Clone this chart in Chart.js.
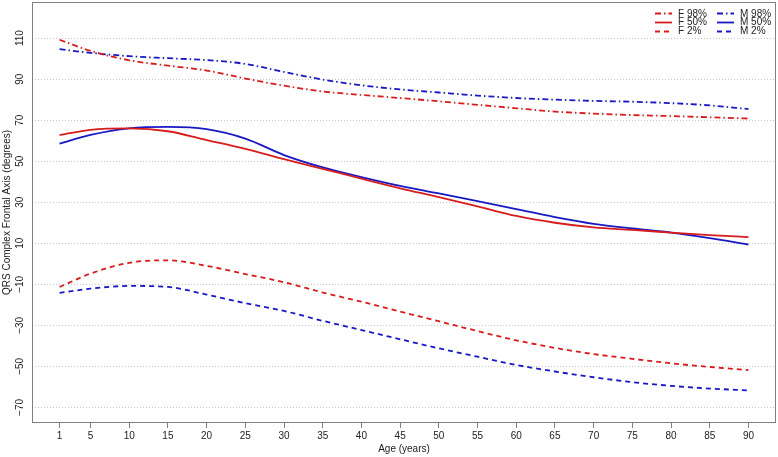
<!DOCTYPE html>
<html>
<head>
<meta charset="utf-8">
<script src="https://cdn.jsdelivr.net/npm/chart.js@4.4.1/dist/chart.umd.min.js"></script>
<style>
  html, body { margin: 0; padding: 0; background: #ffffff; }
  #wrap { width: 778px; height: 457px; }
</style>
</head>
<body>
<div id="wrap"><canvas id="c" width="778" height="457"></canvas></div>
<script>
// ---- data ----
const ages = [1, 5, 10, 15, 20, 25, 30, 35, 40, 45, 50, 55, 60, 65, 70, 75, 80, 85, 90];
const xTickLabels = [1, 5, 10, 15, 20, 25, 30, 35, 40, 45, 50, 55, 60, 65, 70, 75, 80, 85, 90];
const yTickLabels = [-70, -50, -30, -10, 10, 30, 50, 70, 90, 110];
const seriesNames = ["F 98%", "F 50%", "F 2%", "M 98%", "M 50%", "M 2%"];

const f98 = [109.2, 103.8, 99.2, 96.6, 94.2, 90.3, 86.8, 84.0, 82.3, 80.8, 79.2, 77.5, 75.8, 74.2, 73.2, 72.5, 72.0, 71.4, 70.8];
const f50 = [62.7, 65.3, 66.0, 64.6, 60.3, 56.0, 51.0, 46.3, 41.5, 36.8, 32.5, 28.0, 23.3, 20.0, 17.7, 16.5, 15.2, 14.0, 13.0];
const f2  = [-11.3, -4.8, 0.5, 1.7, -1.0, -5.0, -9.0, -14.0, -18.5, -23.3, -28.0, -32.8, -37.3, -41.0, -44.0, -46.3, -48.5, -50.3, -51.8];
const m98 = [104.6, 102.8, 101.2, 100.2, 99.3, 97.4, 93.5, 89.8, 87.0, 85.0, 83.5, 82.0, 80.8, 80.0, 79.4, 79.0, 78.3, 77.2, 75.4];
const m50 = [58.6, 62.8, 66.0, 66.7, 65.6, 61.0, 53.0, 47.0, 42.3, 38.0, 34.3, 30.5, 26.6, 22.8, 19.5, 17.2, 15.2, 12.5, 9.4];
const m2  = [-14.2, -12.1, -10.8, -11.3, -15.0, -19.2, -23.0, -27.8, -32.3, -36.8, -41.2, -45.3, -49.3, -52.5, -55.3, -57.7, -59.5, -60.8, -61.7];

// ---- styles ----
const RED = '#d81c1c';
const BLUE = '#1818c4';
const DASHDOT = [6, 3, 1.5, 3];
const DASHED = [5, 4];
const FONT = '"Liberation Sans", Arial, Helvetica, sans-serif';

function ds(label, values, color, dash) {
  return {
    label: label,
    data: ages.map((a, i) => ({ x: a, y: values[i] })),
    borderColor: color,
    backgroundColor: color,
    borderWidth: 1.8,
    borderDash: dash,
    pointRadius: 0,
    fill: false,
    tension: 0.4,
    cubicInterpolationMode: 'monotone'
  };
}

const datasets = [
  ds(seriesNames[0], f98, RED, DASHDOT),
  ds(seriesNames[1], f50, RED, []),
  ds(seriesNames[2], f2, RED, DASHED),
  ds(seriesNames[3], m98, BLUE, DASHDOT),
  ds(seriesNames[4], m50, BLUE, []),
  ds(seriesNames[5], m2, BLUE, DASHED)
];

// box around plot + rotated y tick labels + legend
const decor = {
  id: 'decor',
  afterDraw(chart) {
    const ctx = chart.ctx;
    const a = chart.chartArea;
    ctx.save();
    ctx.strokeStyle = '#808080';
    ctx.lineWidth = 1;
    ctx.setLineDash([]);
    ctx.strokeRect(Math.round(a.left) + 0.5, Math.round(a.top) + 0.5,
                   Math.round(a.right - a.left) - 1, Math.round(a.bottom - a.top) - 1);

    // y tick labels (rotated)
    const ys = chart.scales.y;
    ctx.fillStyle = '#222222';
    ctx.font = '10px ' + FONT;
    ctx.textAlign = 'center';
    ctx.textBaseline = 'middle';
    yTickLabels.forEach(v => {
      const py = ys.getPixelForValue(v);
      ctx.save();
      ctx.translate(20, py);
      ctx.rotate(-Math.PI / 2);
      ctx.fillText(v < 0 ? '\u2212' + Math.abs(v) : String(v), 0, 0);
      ctx.restore();
    });

    // legend: two columns (F, M), three rows
    const colX = [655, 717];
    chart.data.datasets.forEach((d, i) => {
      const col = i < 3 ? 0 : 1;
      const row = i % 3;
      const y = 13.3 + row * 8.9;
      const x0 = colX[col];
      ctx.save();
      ctx.strokeStyle = d.borderColor;
      ctx.lineWidth = 1.8;
      ctx.setLineDash(d.borderDash || []);
      ctx.beginPath();
      ctx.moveTo(x0, Math.round(y) + 0.5);
      ctx.lineTo(x0 + 17, Math.round(y) + 0.5);
      ctx.stroke();
      ctx.restore();
      ctx.fillStyle = '#222222';
      ctx.textAlign = 'left';
      ctx.textBaseline = 'middle';
      ctx.fillText(d.label, x0 + 23, y + 0.5);
    });
    ctx.restore();
  }
};

new Chart(document.getElementById('c'), {
  type: 'line',
  data: { datasets: datasets },
  plugins: [decor],
  options: {
    responsive: false,
    animation: false,
    layout: { padding: { top: 2, right: 2, left: 0, bottom: 0 } },
    plugins: { legend: { display: false }, tooltip: { enabled: false }, title: { display: false } },
    scales: {
      x: {
        type: 'linear',
        min: -2.56,
        max: 93.56,
        afterBuildTicks: s => { s.ticks = xTickLabels.map(v => ({ value: v })); },
        afterFit: s => { s.height = 34; },
        grid: { display: true, drawOnChartArea: false, drawTicks: true, tickLength: 5, color: '#808080', lineWidth: 1 },
        border: { display: false },
        ticks: { autoSkip: false, maxRotation: 0, minRotation: 0, padding: 2, color: '#222222',
                 font: { size: 10, family: FONT }, callback: v => String(v) },
        title: { display: true, text: 'Age (years)', color: '#222222', font: { size: 10, family: FONT },
                 padding: { top: 0, bottom: 2 } }
      },
      y: {
        type: 'linear',
        min: -77.6,
        max: 127.6,
        afterBuildTicks: s => { s.ticks = yTickLabels.map(v => ({ value: v })); },
        afterFit: s => { s.width = 32; },
        grid: { display: true, drawOnChartArea: true, drawTicks: false, color: '#c4c4c4', lineWidth: 1 },
        border: { display: false, dash: [1, 2] },
        ticks: { display: false },
        title: { display: true, text: 'QRS Complex Frontal Axis (degrees)', color: '#222222',
                 font: { size: 10, family: FONT }, padding: { top: 1, bottom: 0 } }
      }
    }
  }
});
</script>
</body>
</html>
